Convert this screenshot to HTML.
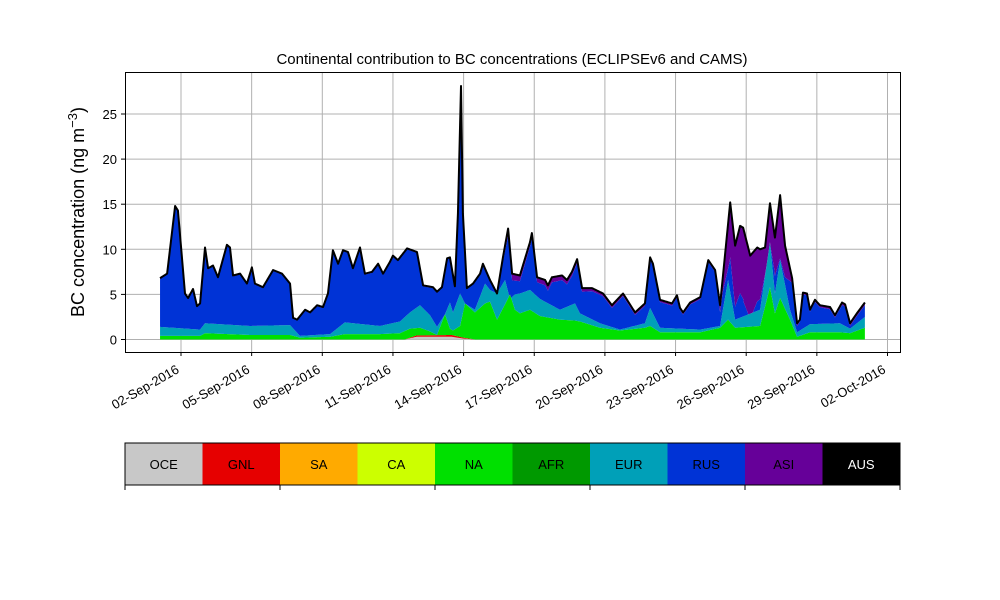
<!DOCTYPE html>
<html><head><meta charset="utf-8"><style>
body{margin:0;background:#fff}
svg{display:block;font-family:"Liberation Sans","DejaVu Sans",sans-serif}
</style></head><body>
<svg id="chart" width="1000" height="600" viewBox="0 0 1000 600">
<rect width="1000" height="600" fill="#fff"/>
<text x="512" y="64" text-anchor="middle" font-size="15">Continental contribution to BC concentrations (ECLIPSEv6 and CAMS)</text>
<text transform="translate(84,212) rotate(-90)" text-anchor="middle" font-size="18">BC concentration (ng m<tspan dy="-7" font-size="13">−3</tspan><tspan dy="7">)</tspan></text>
<g id="grid"></g>
<g id="areas"></g>
<g id="axes"></g>
<g id="legend"></g>
</svg>
<script>
// ---- data (days of Sep 2016, BC in ng m-3) ----
const totalDays=[1.11,1.41,1.75,1.87,2.17,2.30,2.51,2.68,2.81,3.02,3.15,3.36,3.57,3.95,4.08,4.21,4.51,4.80,5.01,5.14,5.48,5.91,6.29,6.63,6.76,6.93,7.27,7.48,7.78,8.03,8.24,8.45,8.67,8.88,9.09,9.30,9.60,9.81,10.11,10.37,10.58,10.87,11.00,11.21,11.60,12.02,12.28,12.70,12.87,13.08,13.30,13.42,13.63,13.76,13.89,13.97,14.14,14.40,14.70,14.82,15.12,15.42,15.67,15.89,16.06,16.39,16.82,16.90,17.12,17.46,17.58,17.75,18.18,18.39,18.60,18.82,19.03,19.45,19.92,20.30,20.77,21.28,21.70,21.92,22.04,22.34,22.85,23.06,23.19,23.32,23.62,24.05,24.39,24.68,24.89,25.32,25.53,25.74,25.87,26.17,26.47,26.59,26.80,27.01,27.22,27.44,27.65,27.95,28.16,28.28,28.41,28.58,28.71,28.92,29.13,29.56,29.77,30.07,30.20,30.41,30.70,31.04];
const totalVals=[6.8,7.3,14.8,14.3,5.1,4.6,5.6,3.7,4.0,10.2,7.9,8.2,6.9,10.5,10.2,7.1,7.3,6.2,8.0,6.2,5.8,7.7,7.3,6.2,2.4,2.2,3.3,3.0,3.8,3.6,5.1,9.9,8.4,9.9,9.7,7.9,10.2,7.3,7.5,8.4,7.3,8.6,9.3,8.8,10.1,9.7,6.0,5.8,5.3,5.8,9.0,9.1,5.9,14.0,28.1,14.0,5.7,6.2,7.3,8.4,6.6,5.1,9.1,12.3,7.3,7.1,10.8,11.8,6.9,6.6,6.0,6.9,7.1,6.6,7.5,8.9,5.7,5.7,5.1,3.8,5.1,3.0,4.0,9.1,8.4,4.4,4.0,4.9,3.5,3.0,4.1,4.7,8.8,7.7,3.8,15.2,10.4,12.6,12.4,9.3,10.2,10.0,10.2,15.1,11.3,16.0,10.4,6.8,1.8,2.2,5.2,5.1,3.3,4.4,3.8,3.6,2.7,4.1,3.9,1.8,2.9,4.1];
const layerDays=[1.11,2.81,3.02,4.93,6.63,7.05,8.33,8.96,10.45,11.30,11.72,12.15,12.57,12.87,13.21,13.42,13.55,13.85,14.06,14.48,14.91,15.12,15.42,15.76,15.97,16.18,16.39,16.82,17.24,18.09,18.73,18.94,19.79,20.64,21.70,21.92,22.34,24.05,24.89,25.23,25.53,26.59,27.01,27.22,27.44,27.86,28.16,28.71,29.98,30.41,31.04];
const naTop=[0.4,0.4,0.7,0.5,0.5,0.2,0.3,0.6,0.6,0.7,1.2,1.3,0.9,0.5,2.8,1.2,1.0,1.5,4.0,3.0,4.0,4.2,2.2,3.9,5.0,3.3,2.9,3.3,2.6,2.2,2.1,2.0,1.3,1.0,1.3,1.5,0.8,0.8,1.3,2.2,1.3,1.5,5.8,2.9,4.6,2.2,0.3,0.8,0.8,0.7,1.3];
const eurTop=[1.4,1.1,1.8,1.5,1.6,0.4,0.6,1.9,1.5,2.0,3.0,3.8,2.7,1.4,2.8,4.1,3.0,5.1,4.0,3.3,6.2,5.5,5.1,6.6,4.5,5.0,5.1,5.5,4.5,3.3,4.0,2.9,1.8,1.1,1.8,3.5,1.3,1.1,1.5,6.6,2.2,3.3,10.8,5.1,8.8,3.3,0.8,1.7,1.8,1.2,2.5];
const asiDays=[1.11,15.4,15.9,16.8,17.5,19.8,24.8,25.0,25.3,25.9,26.6,26.8,27.0,27.2,27.44,27.65,27.95,28.3,31.04];
const asiVals=[0.1,0.1,0.8,0.5,0.6,0.3,0.2,1.5,6.0,8.0,5.5,3.0,4.5,4.0,7.0,3.5,0.5,0.2,0.3];
const oceDays=[1.11,11.5,12.0,13.5,14.0,14.5,31.04];
const oceVals=[0,0,0.3,0.3,0.1,0,0];
const gnlVals=[0,0,0.15,0.2,0.1,0,0];
const yTicks=[0,5,10,15,20,25];
const xTickDays=[2,5,8,11,14,17,20,23,26,29,32];
const xTickLabels=["02-Sep-2016","05-Sep-2016","08-Sep-2016","11-Sep-2016","14-Sep-2016","17-Sep-2016","20-Sep-2016","23-Sep-2016","26-Sep-2016","29-Sep-2016","02-Oct-2016"];
const regions=["OCE","GNL","SA","CA","NA","AFR","EUR","RUS","ASI","AUS"];
const regionColors=["#c8c8c8","#e60000","#ffaa00","#ccff00","#00e000","#009900","#00a0b8","#0033d6","#660099","#000000"];

const NS="http://www.w3.org/2000/svg";
const L=125,R=900,T=72,B=352;
const xS=d=>181+(d-2)*23.55;
const yS=v=>339.5-v*9.02;
function interp(xs,vs,x){if(x<=xs[0])return vs[0];for(let i=1;i<xs.length;i++){if(x<=xs[i]){const t=(x-xs[i-1])/(xs[i]-xs[i-1]);return vs[i-1]+t*(vs[i]-vs[i-1]);}}return vs[vs.length-1];}
function mk(tag,attrs,parent){const e=document.createElementNS(NS,tag);for(const k in attrs)e.setAttribute(k,attrs[k]);parent.appendChild(e);return e;}
const grid=document.getElementById('grid'),areas=document.getElementById('areas'),axes=document.getElementById('axes'),legend=document.getElementById('legend');
yTicks.forEach(v=>{const l=mk('line',{x1:L,x2:R,y1:yS(v),y2:yS(v),stroke:'#b0b0b0','stroke-width':1},grid);

});
xTickDays.forEach(d=>{const l=mk('line',{x1:xS(d),x2:xS(d),y1:T,y2:B,stroke:'#b0b0b0','stroke-width':1},grid);

});
const d0=totalDays[0],d1=totalDays[totalDays.length-1];
const xsF=[];const set=new Set();
for(let d=d0;d<=d1+1e-9;d+=0.02)set.add(+d.toFixed(4));
totalDays.concat(layerDays,asiDays).forEach(d=>set.add(d));
[...set].sort((a,b)=>a-b).forEach(d=>{if(d>=d0&&d<=d1)xsF.push(d);});
const tot=xsF.map(d=>interp(totalDays,totalVals,d));
const oce=xsF.map(d=>interp(oceDays,oceVals,d));
const gnl=xsF.map((d,i)=>oce[i]+interp(oceDays,gnlVals,d));
const na=xsF.map((d,i)=>Math.min(tot[i],Math.max(gnl[i],interp(layerDays,naTop,d))));
const eu=xsF.map((d,i)=>Math.min(tot[i],Math.max(na[i],interp(layerDays,eurTop,d))));
const ru=xsF.map((d,i)=>Math.min(tot[i],Math.max(eu[i],tot[i]-interp(asiDays,asiVals,d))));
const zero=xsF.map(()=>0);
function band(lo,hi,color,name){let p='';xsF.forEach((d,i)=>{p+=(i?'L':'M')+xS(d).toFixed(2)+','+yS(hi[i]).toFixed(2);});
for(let i=xsF.length-1;i>=0;i--)p+='L'+xS(xsF[i]).toFixed(2)+','+yS(lo[i]).toFixed(2);
const e=mk('path',{d:p+'Z',fill:color,stroke:'none'},areas);

}
band(zero,oce,regionColors[0],'area-oce');
band(oce,gnl,regionColors[1],'area-gnl');
band(gnl,na,regionColors[4],'area-na');
band(na,eu,regionColors[6],'area-eur');
band(eu,ru,regionColors[7],'area-rus');
band(ru,tot,regionColors[8],'area-asi');
let tp='';xsF.forEach((d,i)=>{tp+=(i?'L':'M')+xS(d).toFixed(2)+','+yS(tot[i]).toFixed(2);});
const tl=mk('path',{d:tp,fill:'none',stroke:'#000','stroke-width':2,'stroke-linejoin':'round'},areas);


const fr=mk('rect',{x:L+0.5,y:T+0.5,width:R-L,height:B-T,fill:'none',stroke:'#000','stroke-width':1},axes);


yTicks.forEach(v=>{mk('line',{x1:L-4,x2:L,y1:yS(v),y2:yS(v),stroke:'#000'},axes);
const t=mk('text',{x:L-8,y:yS(v)+5,'text-anchor':'end','font-size':13},axes);t.textContent=v;

});
xTickDays.forEach((d,i)=>{const x=xS(d);mk('line',{x1:x,x2:x,y1:B,y2:B+4,stroke:'#000'},axes);
const t=mk('text',{x:0,y:0,'text-anchor':'end','font-size':13,transform:`translate(${x-1},${B+20}) rotate(-30)`},axes);t.textContent=xTickLabels[i];

});
const bw=(R-L)/regions.length;
regions.forEach((r,i)=>{const x=L+i*bw;
const b=mk('rect',{x:x,y:443,width:bw+0.5,height:42,fill:regionColors[i]},legend);


const t=mk('text',{x:x+bw/2,y:469,'text-anchor':'middle','font-size':13,fill:r==='AUS'?'#fff':'#000'},legend);t.textContent=r;

});
const lf=mk('rect',{x:L,y:443,width:R-L,height:42,fill:'none',stroke:'#000','stroke-width':1},legend);


for(let k=0;k<=10;k+=2){mk('line',{x1:L+k*bw,x2:L+k*bw,y1:485,y2:490,stroke:'#000'},legend);}
</script>
</body></html>
